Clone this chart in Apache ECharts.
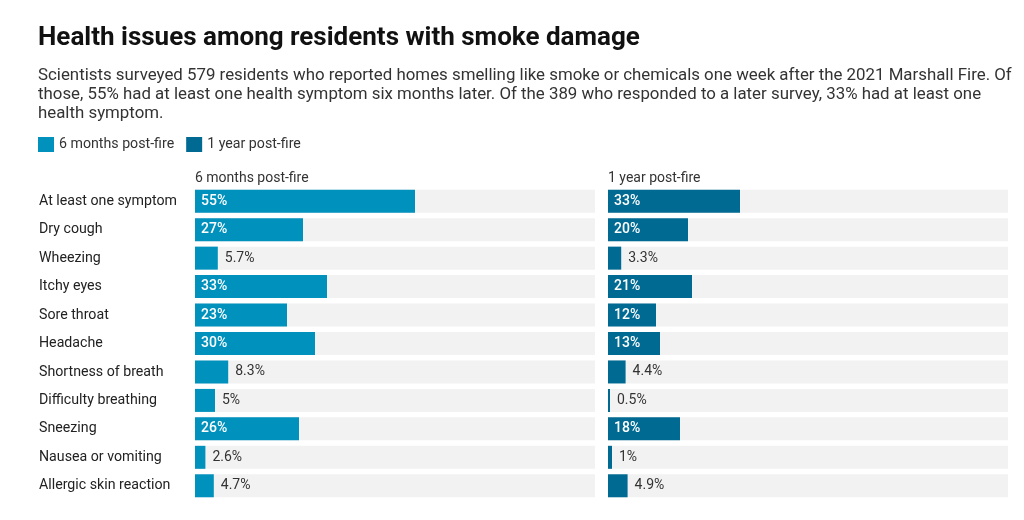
<!DOCTYPE html>
<html><head><meta charset="utf-8">
<script src="https://cdn.jsdelivr.net/npm/echarts@6/dist/echarts.min.js"></script>
<style>html,body{margin:0;padding:0;background:#fff}#c{width:1024px;height:520px}</style>
</head><body><div id="c"></div>
<script>
var categories = ["At least one symptom","Dry cough","Wheezing","Itchy eyes","Sore throat","Headache","Shortness of breath","Difficulty breathing","Sneezing","Nausea or vomiting","Allergic skin reaction"];
var sixMonths = [55, 27, 5.7, 33, 23, 30, 8.3, 5, 26, 2.6, 4.7];
var oneYear = [33, 20, 3.3, 21, 12, 13, 4.4, 0.5, 18, 1, 4.9];
var seriesNames = ["6 months post-fire", "1 year post-fire"];
var titleText = "Health issues among residents with smoke damage";
var subtitleText = "Scientists surveyed 579 residents who reported homes smelling like smoke or chemicals one week after the 2021 Marshall Fire. Of\nthose, 55% had at least one health symptom six months later. Of the 389 who responded to a later survey, 33% had at least one\nhealth symptom.";

var FONT = 'Roboto';
var colors = ['#0091bd', '#006a92'];

function makeData(vals) {
  return vals.map(function (v) {
    var inside = v >= 10;
    return {
      value: v,
      label: inside
        ? { position: 'insideLeft', distance: 6, color: '#ffffff', fontWeight: 500 }
        : { position: 'right', distance: 7, color: '#333333', fontWeight: 400 }
    };
  });
}

var chart = echarts.init(document.getElementById('c'), null, { renderer: 'canvas' });
var gridTop = 187, gridH = 313;
chart.setOption({
  animation: false,
  textStyle: { fontFamily: FONT },
  title: [
    { text: titleText, left: 38, top: 23, padding: 0, textStyle: { fontFamily: FONT, fontSize: 26, fontWeight: 'bold', color: '#111111', lineHeight: 30 } },
    { text: subtitleText, left: 38, top: 66, padding: 0, textStyle: { fontFamily: FONT, fontSize: 16.85, fontWeight: 'normal', color: '#333333', lineHeight: 19 } },
    { text: seriesNames[0], left: 195, top: 170, padding: 0, textStyle: { fontFamily: FONT, fontSize: 14, fontWeight: 'normal', color: '#333333', lineHeight: 17 } },
    { text: seriesNames[1], left: 608, top: 170, padding: 0, textStyle: { fontFamily: FONT, fontSize: 14, fontWeight: 'normal', color: '#333333', lineHeight: 17 } }
  ],
  legend: {
    data: seriesNames, left: 38, top: 137, padding: 0, icon: 'rect', itemWidth: 16, itemHeight: 15, itemGap: 12,
    textStyle: { fontFamily: FONT, fontSize: 14.2, color: '#333333', padding: [0, 0, 0, 0] },
    selectedMode: false
  },
  grid: [
    { left: 195, width: 400, top: gridTop, height: gridH },
    { left: 608, width: 400, top: gridTop, height: gridH }
  ],
  xAxis: [
    { gridIndex: 0, type: 'value', min: 0, max: 100, show: false },
    { gridIndex: 1, type: 'value', min: 0, max: 100, show: false }
  ],
  yAxis: [
    { gridIndex: 0, type: 'category', data: categories, inverse: true,
      axisLine: { show: false }, axisTick: { show: false }, splitLine: { show: false },
      axisLabel: { align: 'left', margin: 156, fontFamily: FONT, fontSize: 14.2, color: '#222222' } },
    { gridIndex: 1, type: 'category', data: categories, inverse: true, axisLabel: { show: false },
      axisLine: { show: false }, axisTick: { show: false }, splitLine: { show: false } }
  ],
  series: [
    { name: seriesNames[0], type: 'bar', xAxisIndex: 0, yAxisIndex: 0, data: makeData(sixMonths),
      barWidth: 23, itemStyle: { color: colors[0] }, showBackground: true,
      backgroundStyle: { color: '#f2f2f2' },
      label: { show: true, fontFamily: FONT, fontSize: 14, formatter: '{c}%' } },
    { name: seriesNames[1], type: 'bar', xAxisIndex: 1, yAxisIndex: 1, data: makeData(oneYear),
      barWidth: 23, itemStyle: { color: colors[1] }, showBackground: true,
      backgroundStyle: { color: '#f2f2f2' },
      label: { show: true, fontFamily: FONT, fontSize: 14, formatter: '{c}%' } }
  ]
});
</script></body></html>
